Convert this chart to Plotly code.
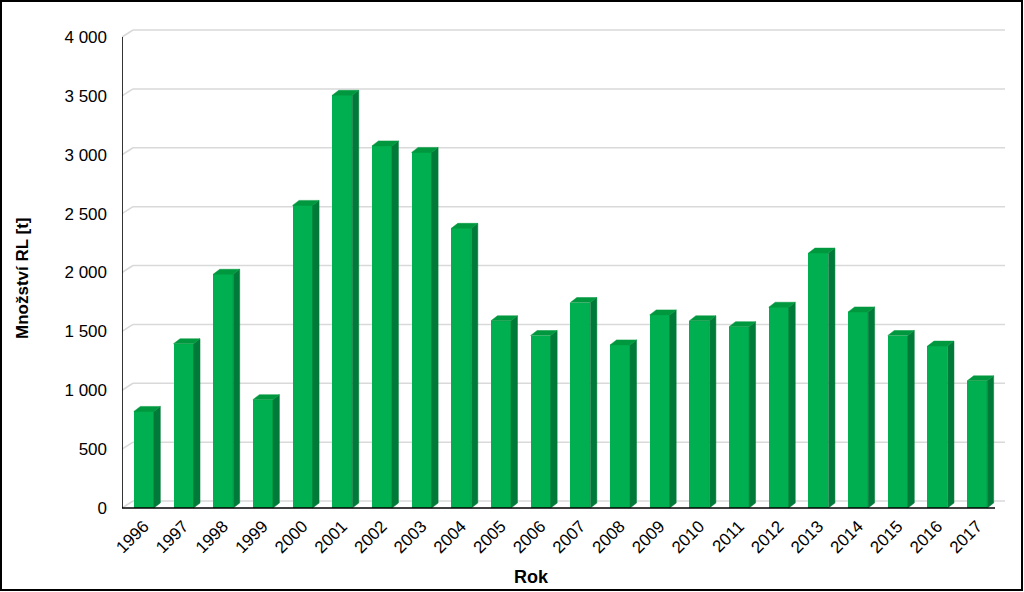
import plotly.graph_objects as go

# ---- data ----
years = ["1996", "1997", "1998", "1999", "2000", "2001", "2002", "2003", "2004", "2005", "2006",
         "2007", "2008", "2009", "2010", "2011", "2012", "2013", "2014", "2015", "2016", "2017"]
values = [820, 1395, 1985, 920, 2570, 3505, 3075, 3020, 2375, 1590, 1465,
          1745, 1385, 1640, 1590, 1540, 1705, 2165, 1665, 1465, 1375, 1080]
y_ticks = [0, 500, 1000, 1500, 2000, 2500, 3000, 3500, 4000]
y_tick_text = ["0", "500", "1 000", "1 500", "2 000", "2 500", "3 000", "3 500", "4 000"]

# ---- layout geometry (pixels) ----
W, H = 1024, 592
L, R, T, B = 122, 1010, 25, 512
Y0_PX = 508           # pixel of value 0 on the front plane
Y4000_PX = 37         # pixel of value 4000 on the front plane
n = len(years)
u = (995 - L) / n                      # px per category
k = (Y0_PX - Y4000_PX) / 4000.0        # px per value unit
x_range = [-0.5, (R - L) / u - 0.5]
y_range = [-(B - Y0_PX) / k, (Y0_PX - T) / k]

# 3D offsets (converted to data units)
wall_dx, wall_dy = 11 / u, 7 / k       # back wall offset
bar_dx, bar_dy = 6.5 / u, 5 / k        # bar depth offset
bar_w = 20 / u
shift = 2 / u
grid_end = (1005 - L) / u - 0.5

xs = [i + shift for i in range(n)]

FRONT = "#00B050"
SIDE = "#007A38"
TOP = "#00983F"
GRID = "#D9D9D9"
FONT = "Liberation Sans, Arial, sans-serif"

fig = go.Figure()

# back-wall gridlines (shapes below traces) with 3D diagonal from front axis
shapes = []
for t in y_ticks:
    shapes.append(dict(type="line", xref="x", yref="y", layer="below",
                       x0=-0.5, y0=t, x1=-0.5 + wall_dx, y1=t + wall_dy,
                       line=dict(color=GRID, width=1.5)))
    shapes.append(dict(type="line", xref="x", yref="y", layer="below",
                       x0=-0.5 + wall_dx, y0=t + wall_dy, x1=grid_end, y1=t + wall_dy,
                       line=dict(color=GRID, width=1.5)))

# front faces
fig.add_trace(go.Bar(x=xs, y=values, width=bar_w, marker=dict(color=FRONT, line=dict(width=0)),
                     showlegend=False, hovertemplate="%{y}<extra></extra>"))

# side faces
sx, sy = [], []
for x, v in zip(xs, values):
    xr = x + bar_w / 2
    sx += [xr, xr + bar_dx, xr + bar_dx, xr, xr, None]
    sy += [0, bar_dy, v + bar_dy, v, 0, None]
fig.add_trace(go.Scatter(x=sx, y=sy, mode="lines", fill="toself", fillcolor=SIDE,
                         line=dict(color=SIDE, width=0.5), hoverinfo="skip", showlegend=False))
# top faces
tx, ty = [], []
for x, v in zip(xs, values):
    xl, xr = x - bar_w / 2, x + bar_w / 2
    tx += [xl, xr, xr + bar_dx, xl + bar_dx, xl, None]
    ty += [v, v, v + bar_dy, v + bar_dy, v, None]
fig.add_trace(go.Scatter(x=tx, y=ty, mode="lines", fill="toself", fillcolor=TOP,
                         line=dict(color=TOP, width=0.5), hoverinfo="skip", showlegend=False))

# front axis lines
fig.add_trace(go.Scatter(x=[-0.5, -0.5, None, -0.5, n - 0.5], y=[y_ticks[-1], 0, None, 0, 0],
                         mode="lines", line=dict(color="black", width=1.6),
                         hoverinfo="skip", showlegend=False))

shapes.append(dict(type="rect", xref="paper", yref="paper",
                   x0=(1 - L) / (R - L), x1=(1022 - L) / (R - L),
                   y0=(B - 590) / (B - T), y1=(B - 1) / (B - T),
                   line=dict(color="black", width=2), fillcolor="rgba(0,0,0,0)"))

fig.update_layout(
    width=W, height=H,
    margin=dict(l=L, r=W - R, t=T, b=H - B),
    paper_bgcolor="white", plot_bgcolor="white",
    font=dict(family=FONT, size=17, color="black"),
    bargap=0,
    xaxis=dict(range=x_range, showgrid=False, zeroline=False, showline=False,
               tickvals=xs, ticktext=years, tickangle=-45, ticks="",
               tickfont=dict(size=17), fixedrange=True),
    yaxis=dict(range=y_range, showgrid=False, zeroline=False, showline=False,
               tickvals=y_ticks, ticktext=y_tick_text, ticks="",
               ticklabelstandoff=14, tickfont=dict(size=17), fixedrange=True),
    annotations=[
        dict(text="<b>Rok</b>", xref="paper", yref="paper",
             x=(531 - L) / (R - L), y=(B - 577) / (B - T),
             xanchor="center", yanchor="middle", showarrow=False, font=dict(size=18)),
        dict(text="<b>Množství RL [t]</b>", xref="paper", yref="paper",
             x=(22 - L) / (R - L), y=(B - 278) / (B - T), textangle=-90,
             xanchor="center", yanchor="middle", showarrow=False, font=dict(size=17)),
    ],
    shapes=shapes,
)

fig.write_html("out.html")
